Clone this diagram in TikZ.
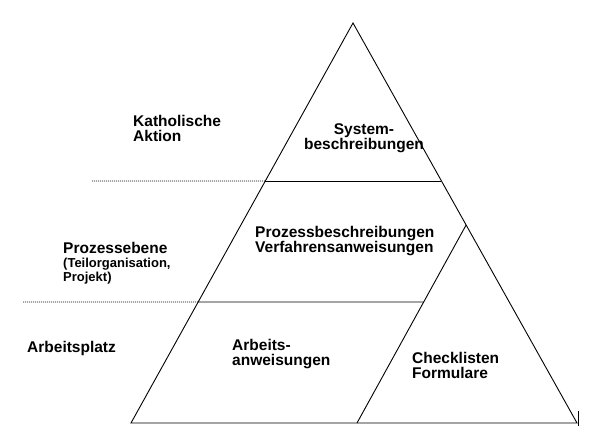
\documentclass[tikz,border=0pt]{standalone}
\usepackage{fontspec}
\setmainfont{Liberation Sans}
\usetikzlibrary{calc}
\begin{document}
\begin{tikzpicture}[x=1pt,y=-1pt,
  edge/.style={line width=0.9pt,black},
  dotline/.style={line width=0.8pt,black,dotted,dash pattern=on 1pt off 1pt},
  lbl/.style={inner sep=0pt,anchor=base west,align=left,font=\fontsize{15.5}{15}\bfseries},
  ctr/.style={inner sep=0pt,anchor=base,align=center,font=\fontsize{15.5}{15}\bfseries}]
\useasboundingbox (0,0) rectangle (591,435);
% main triangle
\coordinate (A) at (353,23);
\coordinate (BL) at (131,423);
\coordinate (BR) at (577,423);
\coordinate (IA) at ($(A)!0.505!(BR)$);
\coordinate (IL) at (357,423);
\coordinate (L1l) at ($(A)!0.395!(BL)$);
\coordinate (L1r) at ($(A)!0.395!(BR)$);
\coordinate (L2l) at ($(A)!0.6975!(BL)$);
\coordinate (L2r) at ($(IA)!0.389!(IL)$);
\coordinate (D1) at (92,181);
\coordinate (D2) at (23,302);
\coordinate (T1) at (578,411);
\coordinate (T2) at (578,426);
\draw[edge] (BL) -- (A) -- (BR) -- cycle;
\draw[edge] (IA) -- (IL);
\draw[edge] (L1l) -- (L1r);
\draw[edge] (L2l) -- (L2r);
\draw[dotline] (D1) -- (L1l);
\draw[dotline] (D2) -- (L2l);
\draw[edge] (T1) -- (T2);
% labels (base anchor = baseline of last line)
\node[lbl] (kath) at (133,142) {Katholische\\Aktion};
\node[lbl,font=\fontsize{15.5}{14}\bfseries] (proz) at (63,282) {Prozessebene\\{\fontsize{13}{14}\selectfont(Teilorganisation,}\\{\fontsize{13}{14}\selectfont Projekt)}};
\node[lbl] (arb) at (27,352) {Arbeitsplatz};
\node[ctr] (sys) at (364,150) {System-\\beschreibungen};
\node[lbl] (pb) at (255,253) {Prozessbeschreibungen\\Verfahrensanweisungen};
\node[lbl] (aa) at (232,365) {Arbeits-\\anweisungen};
\node[lbl] (cf) at (412,378) {Checklisten\\Formulare};
\end{tikzpicture}
\end{document}
